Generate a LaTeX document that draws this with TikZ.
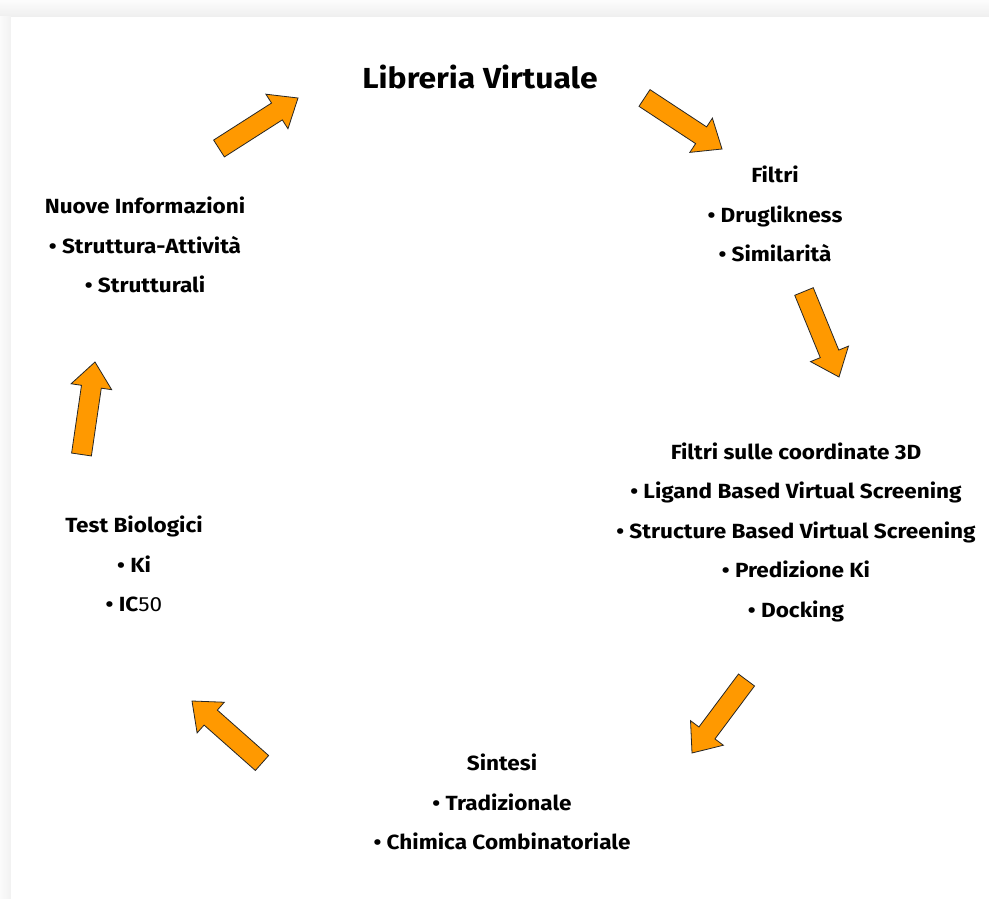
\documentclass[tikz,border=0pt]{standalone}
\usepackage{fontspec}
\setmainfont{Fira Sans}[FakeStretch=1.1]
\usetikzlibrary{calc}
\definecolor{arroworange}{RGB}{255,153,0}
\tikzset{
  blockarrow/.style={fill=arroworange, draw=black!85, line width=0.8pt, line join=miter},
  txt/.style={align=center, inner sep=0pt, font=\fontsize{20.5}{39.5}\selectfont\bfseries},
  titletxt/.style={inner sep=0pt, font=\fontsize{29}{32}\selectfont\bfseries}
}
\newcommand\blkarrow[2]{%
  \path ($(#2)!25pt!(#1)$) coordinate (tmpB);
  \draw[blockarrow] ($(#1)!10pt!90:(#2)$) -- ($(tmpB)!10pt!90:(#2)$) -- ($(tmpB)!20.5pt!90:(#2)$)
     -- (#2) -- ($(tmpB)!20.5pt!-90:(#2)$) -- ($(tmpB)!10pt!-90:(#2)$) -- ($(#1)!10pt!-90:(#2)$) -- cycle;
}
\begin{document}
\begin{tikzpicture}[x=1pt,y=-1pt]
\useasboundingbox (0,0) rectangle (989,899);
% card with shadow
\fill[gray!7] (0,0) rectangle (989,899);
\shade[top color=gray!2, bottom color=gray!13] (0,0) rectangle (989,17);
\shade[left color=gray!3, right color=gray!11] (0,17) rectangle (11,899);
\fill[white] (11,17) rectangle (989,899);

% text blocks
\node[titletxt] (lib) at (480,77) {Libreria Virtuale};
\node[txt] (filtri) at (775,214) {Filtri\\ • Druglikness\\ • Similarità};
\node[txt] (coord) at (796,532) {Filtri sulle coordinate 3D\\ • Ligand Based Virtual Screening\\ • Structure Based Virtual Screening\\ • Predizione Ki\\ • Docking};
\node[txt] (sintesi) at (502,802) {Sintesi\\ • Tradizionale\\ • Chimica Combinatoriale};
\node[txt] (test) at (134,564) {Test Biologici\\ • Ki\\ • IC{\mdseries 50}};
\node[txt] (nuove) at (145,245) {Nuove Informazioni\\ • Struttura-Attività\\ • Strutturali};

% arrows
\coordinate (a1t) at (219,148.5); \coordinate (a1h) at (298,98);
\coordinate (a2t) at (644.5,98);  \coordinate (a2h) at (722,149);
\coordinate (a3t) at (804,291.5); \coordinate (a3h) at (839,377);
\coordinate (a4t) at (746.5,680); \coordinate (a4h) at (692,753);
\coordinate (a5t) at (262,763);   \coordinate (a5h) at (192,701);
\coordinate (a6t) at (81.5,454.5); \coordinate (a6h) at (95,362);
\blkarrow{a1t}{a1h}
\blkarrow{a2t}{a2h}
\blkarrow{a3t}{a3h}
\blkarrow{a4t}{a4h}
\blkarrow{a5t}{a5h}
\blkarrow{a6t}{a6h}
\end{tikzpicture}
\end{document}
